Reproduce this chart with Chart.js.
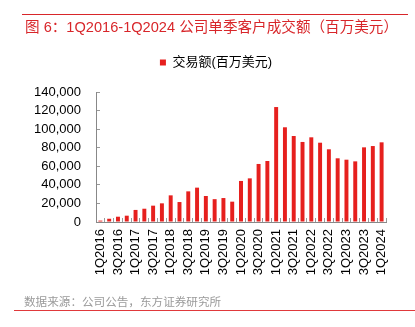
<!DOCTYPE html>
<html>
<head>
<meta charset="utf-8">
<script src="https://cdn.jsdelivr.net/npm/chart.js@4.4.0/dist/chart.umd.min.js"></script>
<style>
  body { margin: 0; background: #fff; font-family: "Liberation Sans", "Noto Sans CJK SC", sans-serif; }
  #wrap { position: relative; width: 415px; height: 327px; overflow: hidden; }
  #topline { position: absolute; left: 22px; top: 14px; width: 386px; height: 0; border-top: 1px solid #d8262a; }
  #title { position: absolute; left: 25px; top: 19px; font-size: 14.6px; line-height: 16px; color: #d8262a; white-space: nowrap; }
  #source { position: absolute; left: 24px; top: 295px; font-size: 11.6px; line-height: 14px; color: #9a9a9a; white-space: nowrap; }
  #botline { position: absolute; left: 14px; top: 310px; width: 401px; height: 0; border-top: 1px solid #e0393b; }
  #box { position: absolute; left: 0; top: 0; width: 415px; height: 327px; }
</style>
</head>
<body>
<div id="wrap">
  <div id="box"><canvas id="chart"></canvas></div>
  <div id="topline"></div>
  <div id="title">图 6：1Q2016-1Q2024 公司单季客户成交额（百万美元）</div>
  <div id="source">数据来源：公司公告，东方证券研究所</div>
  <div id="botline"></div>
</div>
<script>
const quarters = [
  "1Q2016", "2Q2016", "3Q2016", "4Q2016",
  "1Q2017", "2Q2017", "3Q2017", "4Q2017",
  "1Q2018", "2Q2018", "3Q2018", "4Q2018",
  "1Q2019", "2Q2019", "3Q2019", "4Q2019",
  "1Q2020", "2Q2020", "3Q2020", "4Q2020",
  "1Q2021", "2Q2021", "3Q2021", "4Q2021",
  "1Q2022", "2Q2022", "3Q2022", "4Q2022",
  "1Q2023", "2Q2023", "3Q2023", "4Q2023",
  "1Q2024"
];
// 交易额(百万美元)
const volume = [
  1500, 3500, 5700, 6800,
  13000, 14300, 17600, 20100,
  28700, 21500, 33000, 37000,
  28000, 24600, 25800, 21900,
  44200, 47000, 62500, 65700,
  123800, 102000, 92600, 86200,
  91200, 85400, 78300, 68600,
  67100, 65300, 80400, 81800,
  85800
];
const yTicks = [0, 20000, 40000, 60000, 80000, 100000, 120000, 140000];

// legend: some room below it, and nudge it right like the original
const legendTweak = {
  id: "legendTweak",
  beforeInit(chart) {
    const fit = chart.legend.fit;
    chart.legend.fit = function () {
      fit.bind(chart.legend)();
      this.height += 13;
    };
  },
  afterLayout(chart) {
    chart.legend.left += 23;
    chart.legend.right += 23;
  }
};

const font = { family: "'Liberation Sans', 'Noto Sans CJK SC', sans-serif", size: 13 };

new Chart(document.getElementById("chart"), {
  type: "bar",
  data: {
    labels: quarters,
    datasets: [{
      label: "交易额(百万美元)",
      data: volume,
      backgroundColor: "#e6201e",
      barPercentage: 0.45,
      categoryPercentage: 1
    }]
  },
  plugins: [legendTweak],
  options: {
    responsive: true,
    maintainAspectRatio: false,
    animation: false,
    layout: { padding: { top: 46, left: 0, right: 29, bottom: 0 } },
    plugins: {
      tooltip: { enabled: false },
      legend: {
        position: "top",
        labels: { boxWidth: 6, boxHeight: 6, padding: 10, color: "#000", font: font }
      }
    },
    scales: {
      x: {
        afterFit(scale) { scale.height = 105; },
        grid: { drawOnChartArea: false, tickLength: -4, color: "#999", offset: true },
        border: { color: "#888", width: 1 },
        ticks: {
          autoSkip: false,
          minRotation: 90,
          maxRotation: 90,
          padding: 11,
          color: "#000",
          font: font,
          callback: function (val, i) { return i % 2 === 0 ? quarters[i] : ""; }
        }
      },
      y: {
        min: yTicks[0],
        max: yTicks[yTicks.length - 1],
        afterFit(scale) { scale.width = 96; },
        afterBuildTicks(scale) { scale.ticks = yTicks.map(v => ({ value: v })); },
        grid: { drawOnChartArea: false, tickLength: -4, color: "#999" },
        border: { color: "#888", width: 1 },
        ticks: {
          autoSkip: false,
          padding: 19,
          color: "#000",
          font: font,
          callback: v => v.toLocaleString("en-US")
        }
      }
    }
  }
});
</script>
</body>
</html>
